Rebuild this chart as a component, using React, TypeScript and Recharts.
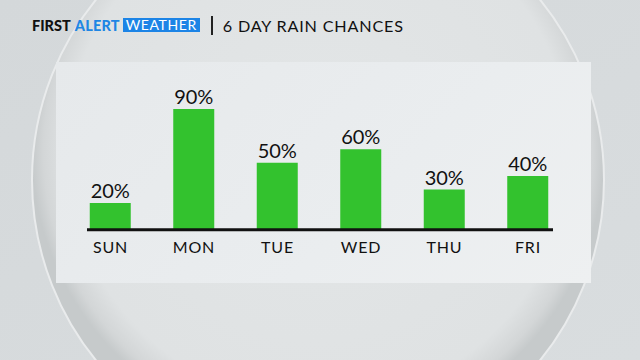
import React from 'react';
import { BarChart, Bar, XAxis, YAxis, LabelList } from 'recharts';

const days = ['SUN', 'MON', 'TUE', 'WED', 'THU', 'FRI'];
const rainChance = [20, 90, 50, 60, 30, 40];

const data = days.map((day, i) => ({ day, chance: rainChance[i] }));

const FONT = 'Lato, "Open Sans", sans-serif';

const Backdrop = () => (
  <svg width={640} height={360} style={{ position: 'absolute', left: 0, top: 0 }}>
    <defs>
      <linearGradient id="bg" x1="0" y1="0" x2="1" y2="1">
        <stop offset="0%" stopColor="#d4d8da" />
        <stop offset="100%" stopColor="#d9dddf" />
      </linearGradient>
      <radialGradient id="orb" cx="0.5" cy="0.45" r="0.5">
        <stop offset="0%" stopColor="#e3e6e7" />
        <stop offset="88%" stopColor="#dfe2e3" />
        <stop offset="96%" stopColor="#d3d6d7" />
        <stop offset="100%" stopColor="#c6cacb" />
      </radialGradient>
    </defs>
    <rect width={640} height={360} fill="url(#bg)" />
    <circle cx={318} cy={180} r={286} fill="url(#orb)" stroke="#e9ebec" strokeWidth={2} />
  </svg>
);

const Header = () => (
  <div
    style={{
      position: 'absolute',
      left: 32,
      top: 14,
      height: 22,
      display: 'flex',
      alignItems: 'center',
      fontFamily: FONT,
      whiteSpace: 'nowrap',
    }}
  >
    <span style={{ fontWeight: 900, fontSize: 14.5, color: '#111', letterSpacing: 0 }}>FIRST</span>
    <span style={{ fontWeight: 900, fontSize: 14.5, color: '#1f86e4', marginLeft: 4, letterSpacing: 0.2 }}>ALERT</span>
    <span
      style={{
        marginLeft: 3,
        background: '#1c84e6',
        color: '#fff',
        fontSize: 14,
        letterSpacing: 0.6,
        height: 14,
        lineHeight: '14px',
        width: 77,
        textAlign: 'center',
      }}
    >
      WEATHER
    </span>
    <span style={{ marginLeft: 11, width: 2, height: 19, background: '#222' }} />
    <span style={{ marginLeft: 10, fontSize: 16.2, color: '#111', letterSpacing: 0.8 }}>6 DAY RAIN CHANCES</span>
  </div>
);

export default function App() {
  return (
    <div style={{ position: 'absolute', left: 0, top: 0, width: 640, height: 360, overflow: 'hidden' }}>
      <Backdrop />
      <Header />
      <div
        style={{
          position: 'absolute',
          left: 56,
          top: 62,
          width: 535,
          height: 221,
          background: 'linear-gradient(135deg, #e6e9eb 0%, #eaedef 60%, #eef0f1 100%)',
        }}
      />
      <div style={{ position: 'absolute', left: 0, top: 0 }}>
        <BarChart
          width={640}
          height={360}
          data={data}
          margin={{ top: 95.5, right: 87, bottom: 100.2, left: 87 }}
        >
          <XAxis
            dataKey="day"
            height={30}
            padding={{ left: -18.25, right: -16.75 }}
            axisLine={{ stroke: '#111', strokeWidth: 3 }}
            tickLine={false}
            tickSize={0}
            tickMargin={11.5}
            tick={{ fill: '#111', fontSize: 16, fontFamily: FONT, letterSpacing: 0.8 }}
            interval={0}
          />
          <YAxis hide domain={[0, 100]} />
          <Bar dataKey="chance" fill="#33c22e" barSize={41} isAnimationActive={false}>
            <LabelList
              dataKey="chance"
              position="top"
              offset={5}
              formatter={(v: any) => `${v}%`}
              style={{ fill: '#111', fontSize: 20, fontFamily: FONT }}
            />
          </Bar>
        </BarChart>
      </div>
    </div>
  );
}
